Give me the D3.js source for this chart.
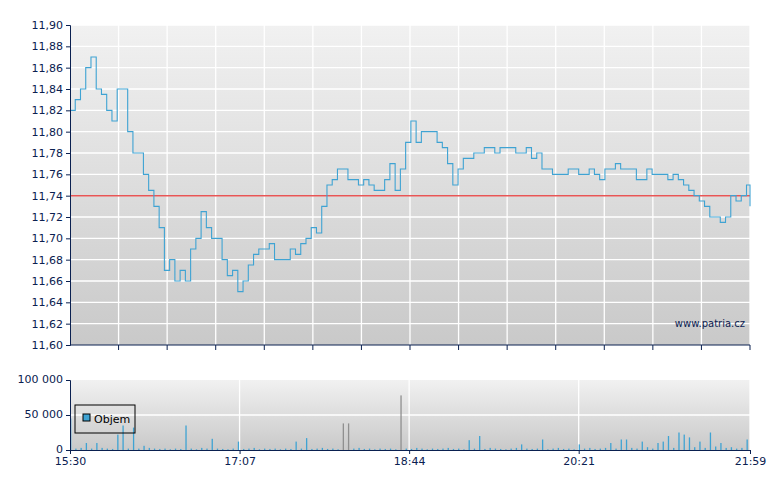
<!DOCTYPE html>
<html><head><meta charset="utf-8">
<script src="https://cdn.jsdelivr.net/npm/d3@7"></script>
<style>body{margin:0;background:#fff}text{font-family:"DejaVu Sans",sans-serif;font-size:11px;fill:#0a2050}</style>
</head><body>
<svg id="chart" width="780" height="490"></svg>
<script>
// price every 3 minutes from 15:30, last point at 21:59
var prices = [11.82,11.83,11.84,11.86,11.87,11.84,11.835,11.82,11.81,11.84,11.84,11.80,11.78,11.78,11.76,11.745,11.73,11.71,11.67,11.68,
  11.66,11.67,11.66,11.69,11.70,11.725,11.71,11.70,11.70,11.68,11.665,11.67,11.65,11.66,11.675,11.685,11.69,11.69,11.695,11.68,
  11.68,11.68,11.69,11.685,11.695,11.70,11.71,11.705,11.73,11.75,11.755,11.765,11.765,11.755,11.755,11.75,11.755,11.75,11.745,11.745,
  11.755,11.77,11.745,11.765,11.79,11.81,11.79,11.80,11.80,11.80,11.79,11.785,11.77,11.75,11.765,11.775,11.775,11.78,11.78,11.785,
  11.785,11.78,11.785,11.785,11.785,11.78,11.78,11.785,11.775,11.78,11.765,11.765,11.76,11.76,11.76,11.765,11.765,11.76,11.76,11.765,
  11.76,11.755,11.765,11.765,11.77,11.765,11.765,11.765,11.755,11.755,11.765,11.76,11.76,11.76,11.755,11.76,11.755,11.75,11.745,11.74,
  11.735,11.73,11.72,11.72,11.715,11.72,11.74,11.735,11.74,11.75,11.73];
var volumes = [45000,2000,3000,10000,2000,10000,3000,2000,1500,22000,35000,2000,32000,2000,6000,3000,2000,1500,2000,1000,
  2000,1500,35000,2000,1000,3000,2000,16000,2000,1500,1000,2000,12000,1500,2000,3000,1000,2000,1500,2000,
  1000,2000,1500,12000,2000,17000,1500,2000,3000,1500,2000,1000,38000,38000,2000,3000,1500,2000,1000,2000,
  1500,2000,1000,78000,2000,1500,3000,2000,1000,2000,1500,2000,3000,1500,2000,1000,14000,2000,20000,1500,
  3000,2000,1500,1000,2000,3000,8000,2000,1500,2000,15000,1000,2000,3000,1500,2000,1000,8000,2000,3000,
  1500,2000,3000,10000,2000,15000,15000,3000,2000,12000,4000,2000,10000,12000,20000,3000,25000,22000,18000,4000,
  12000,3000,25000,5000,10000,3000,4000,2000,3000,15000];
var greyBars = [52, 53, 63];
var refPrice = 11.74;
var timeLabels = ["15:30", "17:07", "18:44", "20:21", "21:59"];
var timeLabelMinutes = [0, 97, 194, 291, 389];
var priceTicks = d3.range(11.60, 11.9001, 0.02);
var volumeTicks = [0, 50000, 100000];

var minutes = prices.map(function (d, i) { return i === prices.length - 1 ? 389 : i * 3; });

var svg = d3.select("#chart");
var left = 70, right = 750;
var pTop = 25, pBottom = 345, vTop = 380, vBottom = 450;

var x = d3.scaleLinear().domain([0, 389]).range([left, right]);
var yP = d3.scaleLinear().domain([11.60, 11.90]).range([pBottom, pTop]);
var yV = d3.scaleLinear().domain([0, 100000]).range([vBottom, vTop]);

var grad = svg.append("defs").append("linearGradient").attr("id", "bg")
    .attr("x1", 0).attr("x2", 0).attr("y1", 0).attr("y2", 1);
grad.append("stop").attr("offset", "0%").attr("stop-color", "#f1f1f1");
grad.append("stop").attr("offset", "100%").attr("stop-color", "#c9c9c9");

svg.append("rect").attr("x", left).attr("y", pTop).attr("width", right - left).attr("height", pBottom - pTop).attr("fill", "url(#bg)");
svg.append("rect").attr("x", left).attr("y", vTop).attr("width", right - left).attr("height", vBottom - vTop).attr("fill", "url(#bg)");

// price grid
var vGrid = d3.range(1, 15).map(function (i) { return 389 * i / 14; });
svg.append("g").selectAll("line").data(priceTicks.slice(1)).join("line")
    .attr("x1", left).attr("x2", right).attr("y1", yP).attr("y2", yP)
    .attr("stroke", "#fff").attr("stroke-width", 1.3);
svg.append("g").selectAll("line").data(vGrid).join("line")
    .attr("x1", x).attr("x2", x).attr("y1", pTop).attr("y2", pBottom + 5)
    .attr("stroke", "#fff").attr("stroke-width", 1.3);
svg.append("g").selectAll("line").data(vGrid).join("line")
    .attr("x1", x).attr("x2", x).attr("y1", pBottom).attr("y2", pBottom + 5)
    .attr("stroke", "#0a2050");

// volume grid
svg.append("g").selectAll("line").data([50000]).join("line")
    .attr("x1", left).attr("x2", right).attr("y1", yV).attr("y2", yV).attr("stroke", "#fff").attr("stroke-width", 1.3);
svg.append("g").selectAll("line").data(timeLabelMinutes.slice(1)).join("line")
    .attr("x1", x).attr("x2", x).attr("y1", vTop).attr("y2", vBottom).attr("stroke", "#fff").attr("stroke-width", 1.3);

// reference line
svg.append("line").attr("x1", left).attr("x2", right).attr("y1", yP(refPrice)).attr("y2", yP(refPrice))
    .attr("stroke", "#e85555").attr("stroke-width", 1.5);

// price line
var line = d3.line().x(function (d, i) { return x(minutes[i]); }).y(function (d) { return yP(d); }).curve(d3.curveStepAfter);
svg.append("path").datum(prices).attr("d", line).attr("fill", "none").attr("stroke", "#3fa3d3").attr("stroke-width", 1.1);

// volume bars
svg.append("g").selectAll("rect").data(volumes).join("rect")
    .attr("x", function (d, i) { return x(i * 3); })
    .attr("y", function (d) { return yV(d); })
    .attr("width", 1.3)
    .attr("height", function (d) { return vBottom - yV(d); })
    .attr("fill", function (d, i) { return greyBars.indexOf(i) >= 0 ? "#909090" : "#3fa3d3"; });

// axes
svg.append("g").attr("transform", "translate(" + left + ",0)")
    .call(d3.axisLeft(yP).tickValues(priceTicks).tickSize(4).tickFormat(function (d) { return d3.format(".2f")(d).replace(".", ","); }))
    .call(function (g) { g.selectAll("path,line").attr("stroke", "#0a2050"); g.selectAll("text").attr("font-size", 11); });
svg.append("line").attr("x1", left).attr("x2", right).attr("y1", pBottom).attr("y2", pBottom).attr("stroke", "#0a2050");

svg.append("g").attr("transform", "translate(" + left + ",0)")
    .call(d3.axisLeft(yV).tickValues(volumeTicks).tickSize(4).tickFormat(function (d) { return d3.format(",")(d).replace(/,/g, " "); }))
    .call(function (g) { g.selectAll("path,line").attr("stroke", "#0a2050"); g.selectAll("text").attr("font-size", 11).attr("dy", "0.2em"); });

svg.append("g").attr("transform", "translate(0," + vBottom + ")")
    .call(d3.axisBottom(x).tickValues(timeLabelMinutes).tickSize(4).tickFormat(function (d, i) { return timeLabels[i]; }))
    .call(function (g) { g.selectAll("path,line").attr("stroke", "#0a2050"); g.selectAll("text").attr("font-size", 11); });

// legend
svg.append("rect").attr("x", 75).attr("y", 405).attr("width", 60).attr("height", 28).attr("fill", "none").attr("stroke", "#000");
svg.append("rect").attr("x", 83).attr("y", 414).attr("width", 7).attr("height", 7).attr("fill", "#3fa3d3").attr("stroke", "#000");
svg.append("text").attr("x", 94).attr("y", 423).style("fill", "#000").text("Objem");

svg.append("text").attr("x", 745).attr("y", 327).attr("text-anchor", "end").style("fill", "#0a2050").style("font-size", "10px").text("www.patria.cz");
</script>
</body></html>
